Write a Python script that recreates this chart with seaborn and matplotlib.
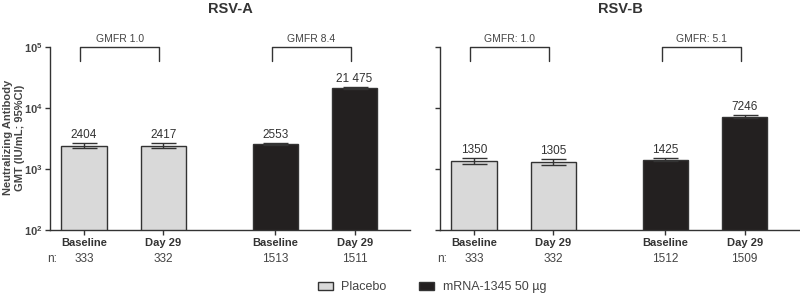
import numpy as np
import pandas as pd
import matplotlib
matplotlib.use('Agg')
import matplotlib.pyplot as plt
from matplotlib.patches import Patch
import seaborn as sns

# data
groups = ["Placebo", "Placebo", "mRNA-1345 50 µg", "mRNA-1345 50 µg"]
timepoints = ["Baseline", "Day 29", "Baseline", "Day 29"]

rsva_gmt = [2404, 2417, 2553, 21475]
rsva_lo = [2180, 2190, 2440, 20600]
rsva_hi = [2650, 2670, 2670, 22400]
rsva_n = [333, 332, 1513, 1511]
rsva_gmfr = ["GMFR 1.0", "GMFR 8.4"]

rsvb_gmt = [1350, 1305, 1425, 7246]
rsvb_lo = [1210, 1170, 1370, 6950]
rsvb_hi = [1500, 1460, 1490, 7560]
rsvb_n = [333, 332, 1512, 1509]
rsvb_gmfr = ["GMFR: 1.0", "GMFR: 5.1"]

palette = {"Placebo": "#d9d9d9", "mRNA-1345 50 µg": "#231f20"}
edge = "#333333"
xpos = [0, 1, 2.42, 3.42]

sns.set_style("ticks")
plt.rcParams['font.family'] = ['Liberation Sans', 'DejaVu Sans']
plt.rcParams['mathtext.fontset'] = 'custom'
plt.rcParams['mathtext.rm'] = 'Liberation Sans'
plt.rcParams['mathtext.bf'] = 'Liberation Sans:bold'

fig = plt.figure(figsize=(8, 2.96), dpi=100)
ax_a = fig.add_axes([50/800, 1-230/296, 360/800, 183/296])
ax_b = fig.add_axes([440/800, 1-230/296, 360/800, 183/296])


def fmt(v):
    if v >= 10000:
        return f"{v:,}".replace(",", " ")
    return str(v)


def panel(ax, title, gmt, lo, hi, n, gmfr, show_y):
    df = pd.DataFrame({"x": xpos, "gmt": gmt, "group": groups})
    ax.set_yscale("log")
    sns.barplot(data=df, x="x", y="gmt", hue="group", palette=palette,
                native_scale=True, dodge=False, width=0.57, errorbar=None,
                edgecolor=edge, linewidth=1, legend=False, ax=ax)
    yerr = [np.array(gmt) - np.array(lo), np.array(hi) - np.array(gmt)]
    ax.errorbar(xpos, gmt, yerr=yerr, fmt="none", ecolor=edge,
                elinewidth=1, capsize=9, capthick=1)
    for x, v, h in zip(xpos, gmt, hi):
        ax.annotate(fmt(v), (x, h), xytext=(0, 1.5), textcoords="offset points",
                    ha="center", va="bottom", fontsize=8.5, color="#333333")
    ax.set_ylim(100, 1e5)
    ax.set_xlim(xpos[0] - 0.43, xpos[-1] + 0.7)
    ax.set_xlabel("")
    ax.set_ylabel("")
    ax.set_yticks([1e2, 1e3, 1e4, 1e5])
    ax.yaxis.set_minor_locator(matplotlib.ticker.NullLocator())
    if show_y:
        ax.set_yticklabels([r"$\mathbf{10^2}$", r"$\mathbf{10^3}$",
                            r"$\mathbf{10^4}$", r"$\mathbf{10^5}$"],
                           fontsize=8, color="#444444")
    else:
        ax.set_yticklabels([])
    ax.set_xticks(xpos)
    ax.set_xticklabels(timepoints, fontweight="bold", fontsize=8, color="#333333")
    ax.tick_params(axis="both", length=3.5, width=1, color=edge, pad=2)
    for s in ["top", "right"]:
        ax.spines[s].set_visible(False)
    for s in ["left", "bottom"]:
        ax.spines[s].set_color(edge)
        ax.spines[s].set_linewidth(1)
    ax.text(0.5, 1.21, title, transform=ax.transAxes, ha="center", va="center",
            fontsize=10.5, fontweight="bold", color="#333333")
    # GMFR brackets
    for i, lab in enumerate(gmfr):
        x0, x1 = xpos[2*i] - 0.05, xpos[2*i+1] - 0.05
        ax.plot([x0, x0, x1, x1], [5.9e4, 1e5, 1e5, 5.9e4], color=edge,
                lw=1, clip_on=False)
        ax.text((x0 + x1) / 2, 1.12e5, lab, ha="center", va="bottom",
                fontsize=7.5, color="#444444")
    # n row
    trans = ax.get_xaxis_transform()
    ax.text(xpos[0] - 0.47, -0.125, "n:", transform=trans, ha="left", va="top",
            fontsize=8.5, color="#444444")
    for x, v in zip(xpos, n):
        ax.text(x, -0.125, str(v), transform=trans, ha="center", va="top",
                fontsize=8.5, color="#444444")


panel(ax_a, "RSV-A", rsva_gmt, rsva_lo, rsva_hi, rsva_n, rsva_gmfr, True)
panel(ax_b, "RSV-B", rsvb_gmt, rsvb_lo, rsvb_hi, rsvb_n, rsvb_gmfr, False)

fig.text(14/800, 0.535, "Neutralizing Antibody\nGMT (IU/mL; 95%CI)",
         rotation=90, ha="center", va="center", fontsize=8,
         fontweight="bold", color="#444444")

handles = [Patch(facecolor=palette[g], edgecolor=edge, linewidth=1)
           for g in ["Placebo", "mRNA-1345 50 µg"]]
fig.legend(handles, ["Placebo", "mRNA-1345 50 µg"], loc="center",
           bbox_to_anchor=(432/800, 1-287/296), ncol=2, frameon=False,
           fontsize=9, handlelength=1.2, handleheight=0.6,
           columnspacing=2.6, handletextpad=0.7, labelcolor="#444444")

fig.savefig("out.png", dpi=100)
